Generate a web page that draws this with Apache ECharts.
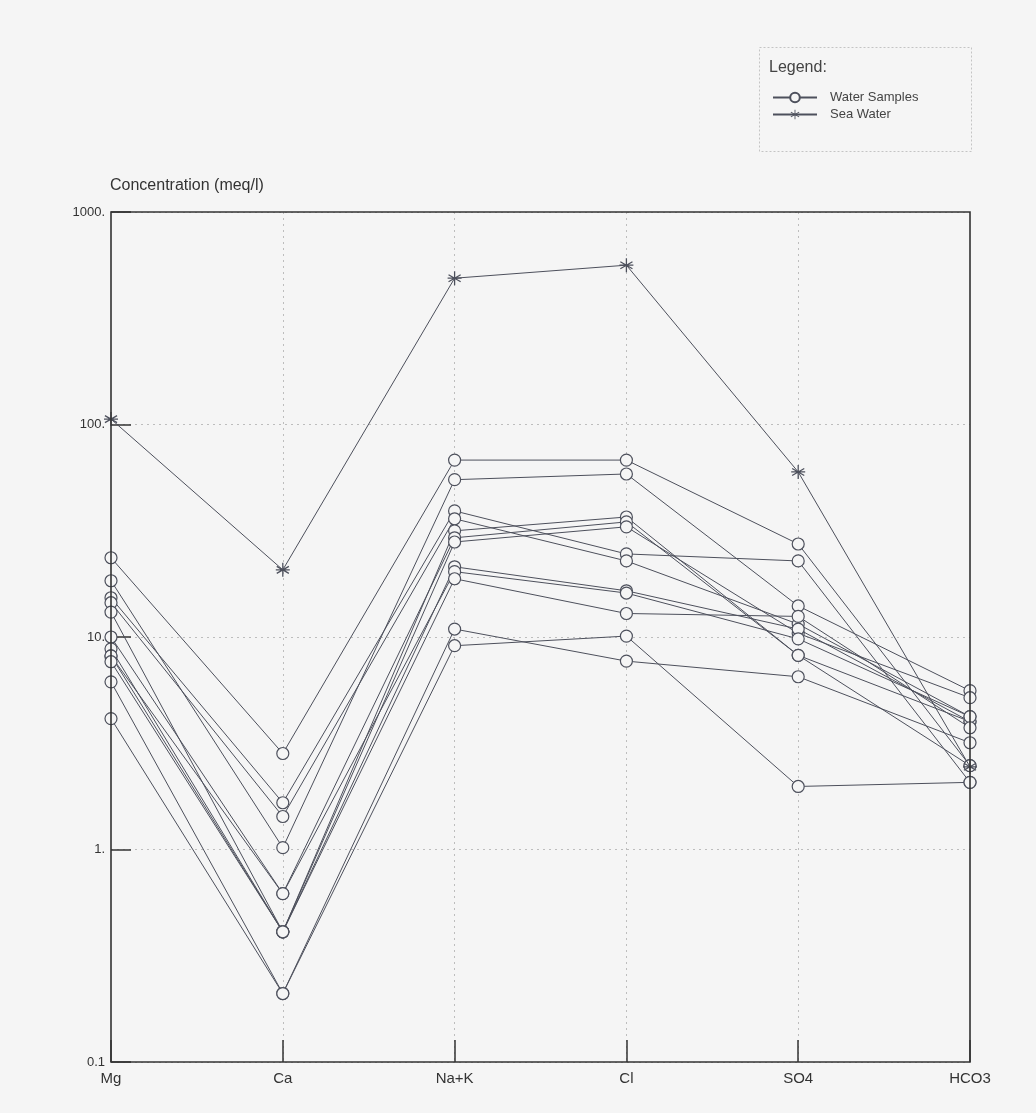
<!DOCTYPE html>
<html>
<head>
<meta charset="utf-8">
<script src="https://cdn.jsdelivr.net/npm/echarts@6/dist/echarts.min.js"></script>
<style>
  html, body { margin: 0; padding: 0; background: #f5f5f5; }
  #chart { width: 1036px; height: 1113px; }
</style>
</head>
<body>
<div id="chart"></div>
<script>
// Schoeller diagram: ion concentrations (meq/l) on a log scale
const categories = ['Mg', 'Ca', 'Na+K', 'Cl', 'SO4', 'HCO3'];

const yTickValues = [0.1, 1, 10, 100, 1000];
const yTickLabels = ['0.1', '1.', '10.', '100.', '1000.'];

const seaWater = [106, 20.7, 488, 562, 59.8, 2.45];

const sample01 = [23.6, 2.83, 68, 68, 27.4, 2.48];
const sample02 = [18.4, 1.02, 55, 58.5, 14.0, 5.59];
const sample03 = [15.3, 1.66, 39.2, 24.6, 22.8, 2.07];
const sample04 = [14.5, 1.43, 36, 22.8, 11.5, 4.22];
const sample05 = [13.1, 0.41, 31.6, 36.7, 8.2, 2.48];
const sample06 = [10.0, 0.62, 29.3, 34.8, 8.2, 4.0];
const sample07 = [8.8, 0.41, 28, 33, 10.4, 5.18];
const sample08 = [8.15, 0.41, 21.4, 16.5, 10.9, 4.0];
const sample09 = [8.15, 0.62, 20.3, 16.1, 9.8, 4.22];
const sample10 = [7.65, 0.41, 18.8, 12.9, 12.5, 3.74];
const sample11 = [6.15, 0.21, 10.9, 7.7, 6.5, 3.18];
const sample12 = [4.13, 0.21, 9.1, 10.1, 1.98, 2.07];

const waterSamples = [sample01, sample02, sample03, sample04, sample05, sample06,
  sample07, sample08, sample09, sample10, sample11, sample12];

const INK = '#4d505c';
const BG = '#f5f5f5';
const FONT = '"Liberation Sans", Arial, sans-serif';

// plot frame geometry (pixels)
const GRID_LEFT = 111, GRID_RIGHT = 66, GRID_TOP = 212, GRID_BOTTOM = 51;
const CHART_W = 1036, CHART_H = 1113;

// asterisk marker built from thin bars
function asteriskPath() {
  const c = 12, len = 11, hw = 1.0;
  let d = '';
  [90, 30, -30, 0].forEach(function (deg) {
    const a = deg * Math.PI / 180;
    const ux = Math.cos(a), uy = Math.sin(a);
    const px = -uy, py = ux;
    const pts = [
      [c + ux * len + px * hw, c + uy * len + py * hw],
      [c - ux * len + px * hw, c - uy * len + py * hw],
      [c - ux * len - px * hw, c - uy * len - py * hw],
      [c + ux * len - px * hw, c + uy * len - py * hw]
    ];
    d += 'M' + pts.map(function (p) { return p[0].toFixed(2) + ' ' + p[1].toFixed(2); }).join('L') + 'Z';
  });
  return 'path://' + d;
}

const sampleSeries = waterSamples.map(function (vals) {
  return {
    name: 'Water Samples',
    type: 'line',
    data: vals,
    symbol: 'circle',
    symbolSize: 12,
    showAllSymbol: true,
    lineStyle: { color: INK, width: 1 },
    itemStyle: { color: BG, borderColor: INK, borderWidth: 1.2 },
    emphasis: { disabled: true },
    z: 3
  };
});

const seaSeries = {
  name: 'Sea Water',
  type: 'line',
  data: seaWater,
  symbol: asteriskPath(),
  symbolSize: 14,
  lineStyle: { color: INK, width: 1 },
  itemStyle: { color: INK },
  emphasis: { disabled: true },
  z: 4
};

const chart = echarts.init(document.getElementById('chart'), null, { renderer: 'canvas' });

chart.setOption({
  backgroundColor: BG,
  animation: false,
  textStyle: { fontFamily: FONT },
  grid: {
    left: GRID_LEFT, right: GRID_RIGHT, top: GRID_TOP, bottom: GRID_BOTTOM,
    show: false
  },
  legend: {
    orient: 'vertical',
    left: 767, top: 86,
    itemWidth: 44, itemHeight: 12, itemGap: 4,
    textStyle: { fontFamily: FONT, fontSize: 13, color: '#444', padding: [0, 0, 0, 8] },
    data: ['Water Samples', 'Sea Water'],
    selectedMode: false
  },
  graphic: [
    {
      type: 'rect',
      shape: { x: 759.5, y: 47.5, width: 212, height: 104 },
      style: { fill: 'transparent', stroke: '#c4c4c4', lineWidth: 1, lineDash: [2, 2] }
    },
    {
      type: 'text', left: 769, top: 60,
      style: { text: 'Legend:', font: '16px ' + FONT, fill: '#444' }
    },
    {
      type: 'text', left: 110, top: 178,
      style: { text: 'Concentration (meq/l)', font: '16px ' + FONT, fill: '#333' }
    },
    {
      // plot frame, drawn over the dotted grid lines
      type: 'rect', z: 100,
      shape: {
        x: GRID_LEFT, y: GRID_TOP,
        width: CHART_W - GRID_LEFT - GRID_RIGHT,
        height: CHART_H - GRID_TOP - GRID_BOTTOM
      },
      style: { fill: 'transparent', stroke: '#333', lineWidth: 1.6 }
    }
  ],
  xAxis: {
    type: 'category',
    data: categories,
    boundaryGap: false,
    axisLine: { show: false },
    axisTick: { show: true, inside: true, length: 22, lineStyle: { color: '#333', width: 1.5 } },
    axisLabel: { color: '#333', fontSize: 15, margin: 9, fontFamily: FONT },
    splitLine: {
      show: true,
      interval: function (i) { return i > 0 && i < categories.length - 1; },
      lineStyle: { color: '#bdbdbd', type: [2, 4], width: 1 }
    }
  },
  yAxis: {
    type: 'log',
    logBase: 10,
    min: 0.1,
    max: 1000,
    axisLine: { show: false },
    axisTick: { show: true, inside: true, length: 20, lineStyle: { color: '#333', width: 1.5 } },
    axisLabel: {
      color: '#333', fontSize: 13, margin: 6, fontFamily: FONT,
      formatter: function (v) {
        for (let i = 0; i < yTickValues.length; i++) {
          if (Math.abs(v - yTickValues[i]) < yTickValues[i] * 1e-6) return yTickLabels[i];
        }
        return '';
      }
    },
    splitLine: { show: true, lineStyle: { color: '#bdbdbd', type: [2, 4], width: 1 } }
  },
  series: sampleSeries.concat([seaSeries])
});
</script>
</body>
</html>
